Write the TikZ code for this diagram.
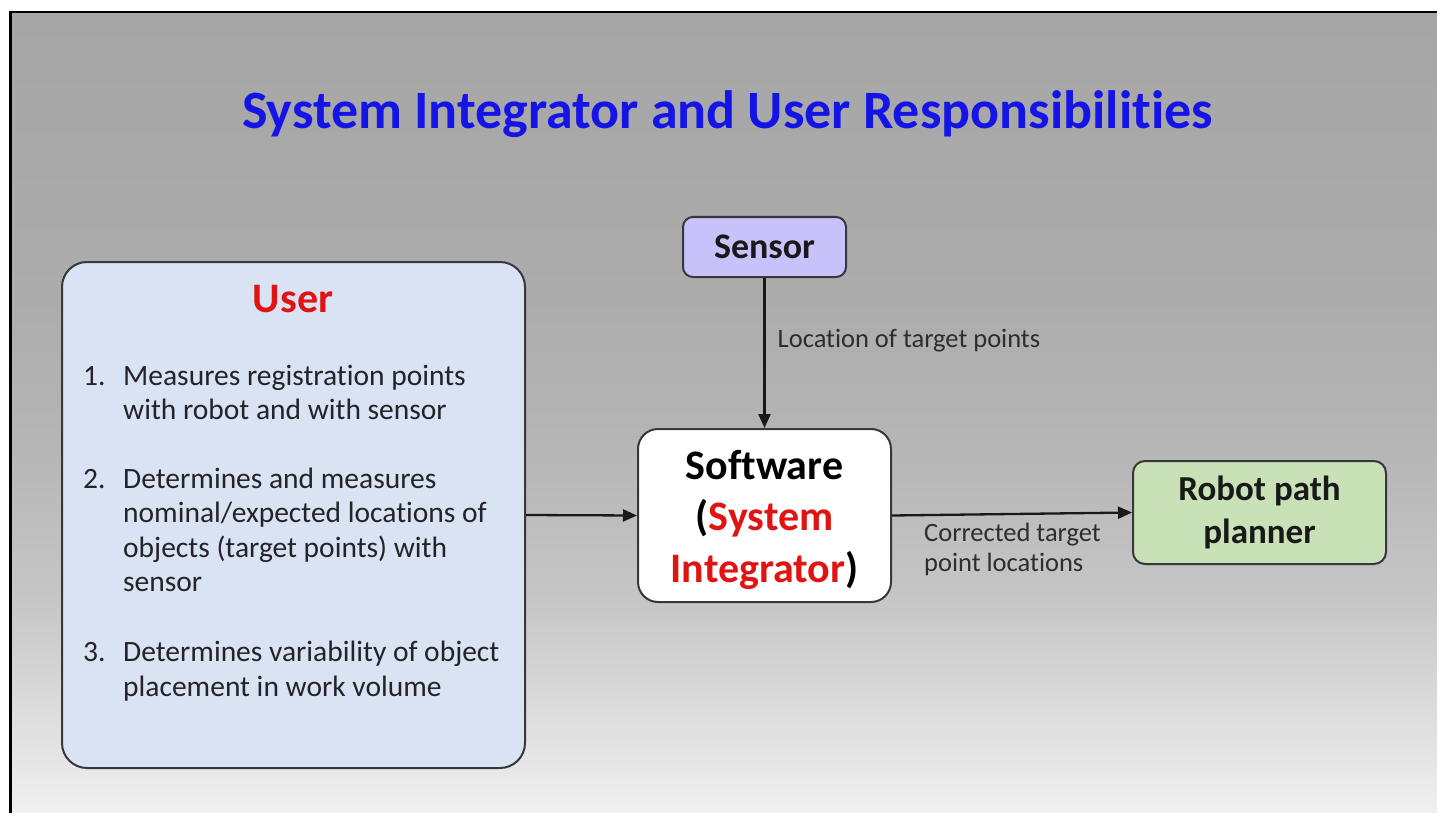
\documentclass[tikz,border=0pt]{standalone}
\usepackage{fontspec}
\setmainfont{Carlito}[Ligatures={NoCommon}]
\usetikzlibrary{arrows.meta}
\definecolor{titleblue}{RGB}{20,20,230}
\definecolor{ured}{RGB}{225,20,20}
\definecolor{boxline}{RGB}{55,55,60}
\definecolor{userfill}{RGB}{218,227,243}
\definecolor{sensorfill}{RGB}{200,194,250}
\definecolor{robotfill}{RGB}{200,225,182}
\definecolor{itemtext}{RGB}{35,35,40}
\definecolor{labeltext}{RGB}{45,45,45}
\definecolor{bgA}{RGB}{240,240,240}
\definecolor{bgB}{RGB}{218,218,218}
\definecolor{bgC}{RGB}{198,198,198}
\definecolor{bgD}{RGB}{182,182,182}
\definecolor{bgE}{RGB}{172,172,172}
\definecolor{bgF}{RGB}{166,166,166}
\pgfdeclareverticalshading{bgshade}{100bp}{color(0bp)=(bgA); color(25bp)=(bgA); color(32bp)=(bgB); color(38.3bp)=(bgC); color(47.7bp)=(bgD); color(57bp)=(bgE); color(75bp)=(bgF); color(100bp)=(bgF)}
\begin{document}
\begin{tikzpicture}[x=1pt,y=-1pt,
  box/.style={draw=boxline, line width=2pt, inner sep=0pt, align=center},
  conn/.style={line width=2.3pt, draw=black!90, -{Triangle[length=14pt,width=12pt]}},
  lbl/.style={inner sep=0pt, anchor=base west, font=\fontsize{26.5}{30}\selectfont, text=labeltext},
  itm/.style={inner sep=0pt, anchor=base west, font=\fontsize{29.5}{34}\selectfont, text=itemtext}]
\useasboundingbox (0,0) rectangle (1437,813);
\shade[shading=bgshade] (10.7,12) rectangle (1437,813);
\draw[line width=2.7pt] (10.7,813) -- (10.7,12) -- (1437,12);

\node[font=\fontsize{54}{60}\selectfont\bfseries, text=titleblue, anchor=base, inner sep=0pt] (title) at (727.5,129) {System Integrator and User Responsibilities};

% User box
\node[box, rounded corners=25pt, fill=userfill, minimum width=463pt, minimum height=506pt] (user) at (293.5,515) {};
\node[anchor=base, inner sep=0pt, font=\fontsize{42}{50}\selectfont\bfseries, text=ured] (usertitle) at (293,312) {User};
\node[itm] (n1) at (83,385) {1.};
\node[itm] (l1a) at (123,385) {Measures registration points};
\node[itm] (l1b) at (123,419) {with robot and with sensor};
\node[itm] (n2) at (83,488) {2.};
\node[itm] (l2a) at (123,488) {Determines and measures};
\node[itm] (l2b) at (123,522) {nominal/expected locations of};
\node[itm] (l2c) at (123,557) {objects (target points) with};
\node[itm] (l2d) at (123,591) {sensor};
\node[itm] (n3) at (83,661) {3.};
\node[itm] (l3a) at (123,661) {Determines variability of object};
\node[itm] (l3b) at (123,696) {placement in work volume};

% Sensor
\node[box, rounded corners=10pt, fill=sensorfill, minimum width=163pt, minimum height=60pt, font=\fontsize{36}{43}\selectfont\bfseries, text=black!90] (sensor) at (764.5,247) {Sensor};

% Software
\node[box, rounded corners=20pt, fill=white, minimum width=253pt, minimum height=173pt] (sw) at (764.5,515.5) {};
\node[inner sep=0pt, align=center, font=\fontsize{42}{51.5}\selectfont\bfseries, text=black] (swtext) at ([yshift=-4pt]sw.center) {Software\\(\textcolor{ured}{System}\\\textcolor{ured}{Integrator})};

% Robot path planner
\node[box, rounded corners=12pt, fill=robotfill, minimum width=253pt, minimum height=103pt, font=\fontsize{35}{43}\selectfont\bfseries, text=black!90] (robot) at (1259.5,512.5) {Robot path\\planner};

% Connectors
\draw[conn] (user.east) -- (sw.west);
\draw[conn] (sensor.south) -- node[lbl, pos=0, xshift=12pt, yshift=-69pt] (lab1) {Location of target points} (sw.north);
\draw[conn] (sw.east) -- node[lbl, align=left, pos=0, xshift=31pt, yshift=-55.5pt] (lab2) {Corrected target\\point locations} (robot.west);
\end{tikzpicture}
\end{document}
